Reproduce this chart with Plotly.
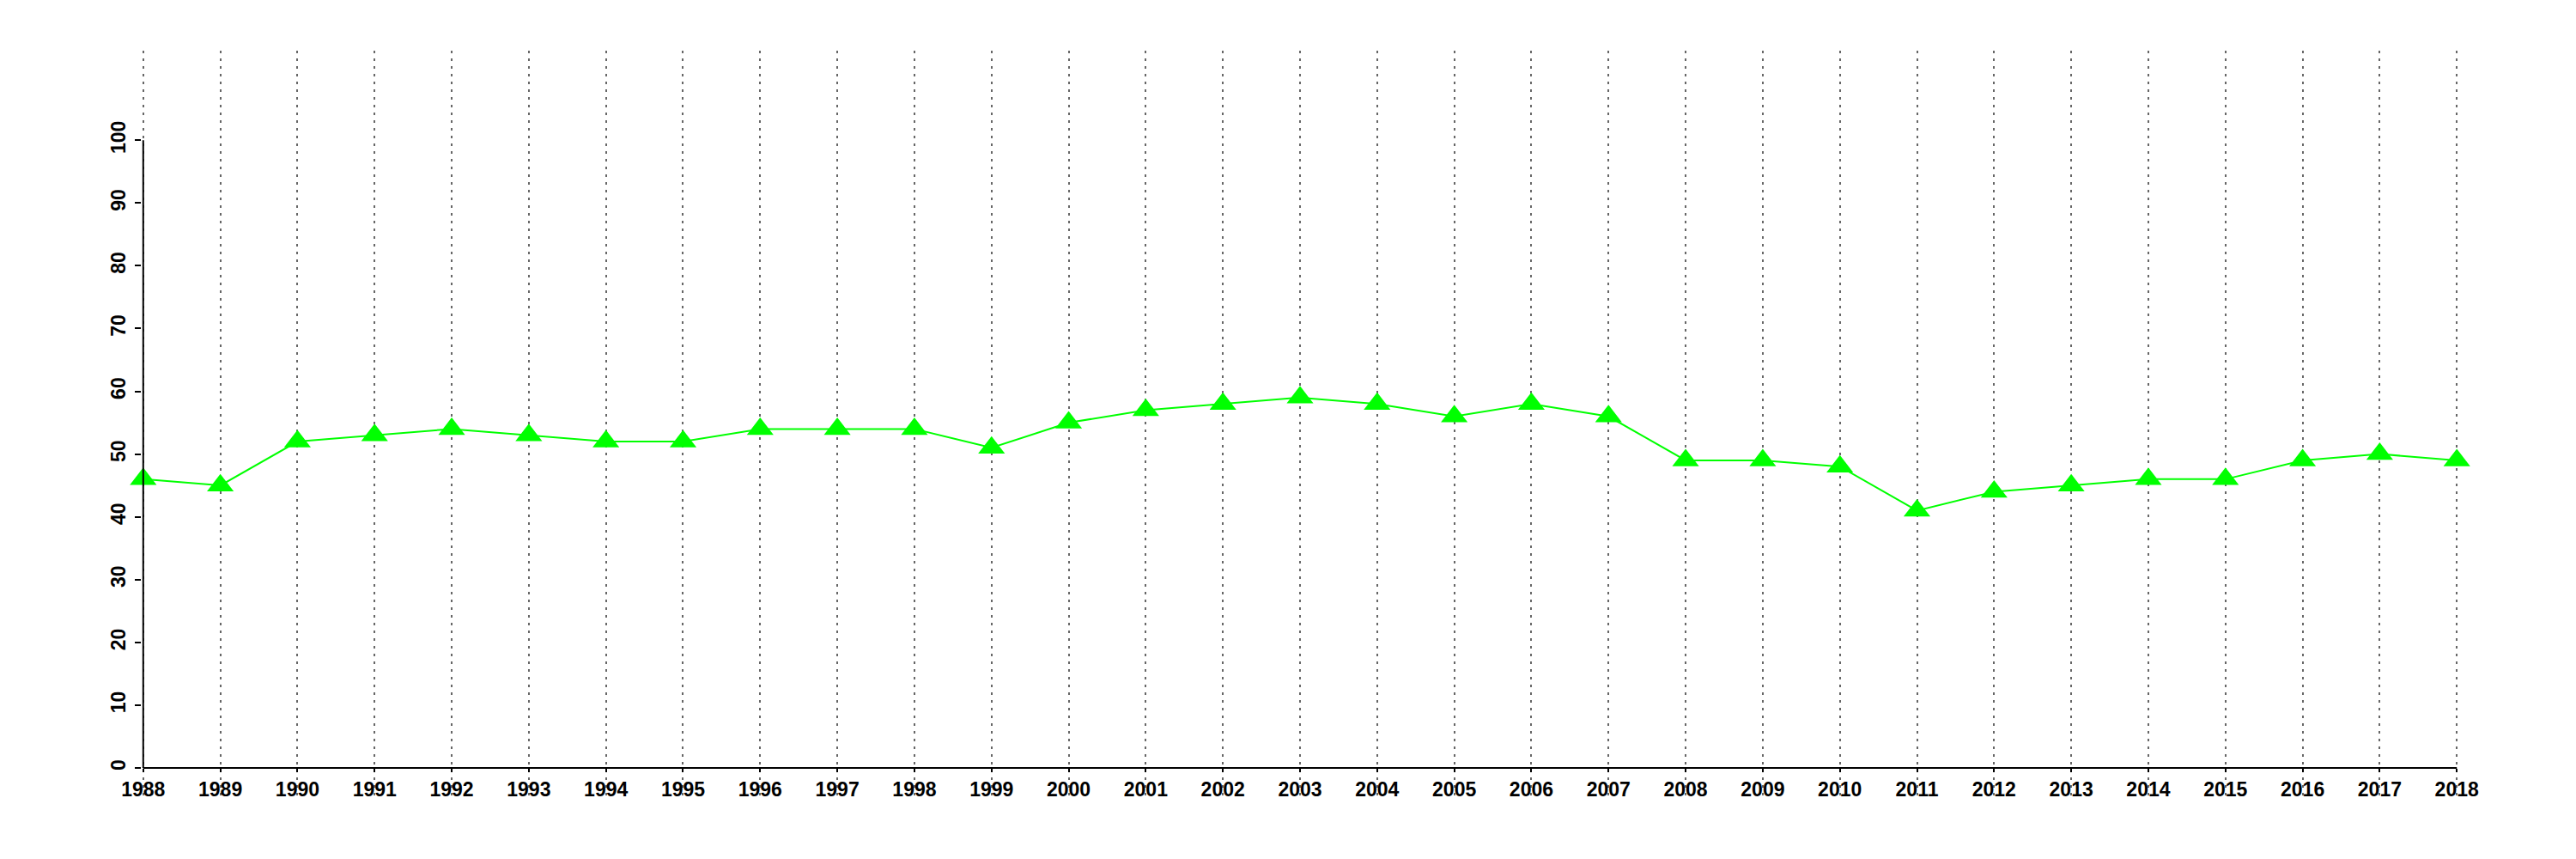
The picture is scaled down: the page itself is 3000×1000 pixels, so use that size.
import plotly.graph_objects as go

years = list(range(1988, 2019))
values = [46, 45, 52, 53, 54, 53, 52, 52, 54, 54, 54, 51, 55, 57, 58, 59,
          58, 56, 58, 56, 49, 49, 48, 41, 44, 45, 46, 46, 49, 50, 49]
y_ticks = list(range(0, 101, 10))
x_ticks = years

W, H = 3000, 1000
OFF = 8                        # default page body margin
x0_px, x1_px = 166.7, 2861.7   # pixel positions of first / last year
top, bottom = 59, 927
y_lo, y_hi = -4.52, 114.27
pad = 0.02                     # small range padding so edge gridlines are drawn
ppy = (x1_px - x0_px) / (years[-1] - years[0])
left = x0_px - pad * ppy
right = x1_px + pad * ppy

fig = go.Figure()
fig.add_trace(go.Scatter(
    x=years, y=values, mode="lines+markers",
    line=dict(color="#00FF00", width=2),
    marker=dict(symbol="triangle-up", size=27, color="#00FF00"),
    showlegend=False, hoverinfo="x+y", cliponaxis=False,
))

tickfont = dict(family="Liberation Sans, Arial, sans-serif", size=23, color="black", weight="bold")

fig.update_layout(
    width=W, height=H,
    margin=dict(l=left - OFF, r=W - right + OFF, t=top - OFF, b=H - bottom + OFF,
                pad=0, autoexpand=False),
    plot_bgcolor="white", paper_bgcolor="white",
    xaxis=dict(
        range=[years[0] - pad, years[-1] + pad], anchor="free", automargin=False,
        position=(0 - y_lo) / (y_hi - y_lo),
        tickmode="array", tickvals=x_ticks, ticktext=[str(v) for v in x_ticks],
        ticks="outside", ticklen=4, tickwidth=2, tickcolor="black",
        showline=False,
        showgrid=True, gridcolor="#666666", gridwidth=2, griddash="3px,6px",
        zeroline=False, tickfont=tickfont, ticklabelstandoff=0,
    ),
    yaxis=dict(
        range=[y_lo, y_hi], automargin=False,
        tickmode="array", tickvals=y_ticks, ticktext=[str(v) for v in y_ticks],
        ticks="outside", ticklen=7, tickwidth=2, tickcolor="black",
        showline=False, showgrid=False, zeroline=False,
        tickangle=-90, tickfont=tickfont, ticklabelstandoff=2,
    ),
    shapes=[
        dict(type="line", xref="x", yref="y", x0=years[0], x1=years[0],
             y0=y_ticks[0], y1=y_ticks[-1], line=dict(color="black", width=2)),
        dict(type="line", xref="x", yref="y", x0=years[0], x1=years[-1],
             y0=y_ticks[0], y1=y_ticks[0], line=dict(color="black", width=2)),
    ],
)

fig.write_html("out.html")
